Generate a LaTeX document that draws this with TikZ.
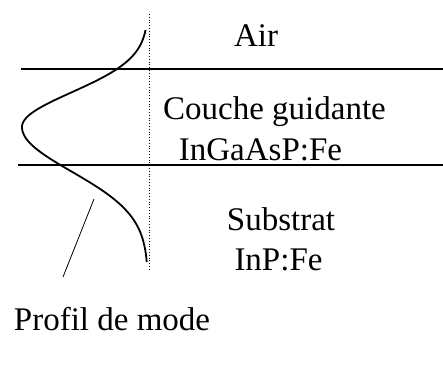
\documentclass[tikz,border=0pt]{standalone}
\usepackage{fontspec}
\setmainfont{Liberation Serif}
\tikzset{
  couche/.style={line width=1.6pt},
  mode/.style={line width=1.8pt, smooth, samples=60},
  etiquette/.style={anchor=base, inner sep=0pt, font=\fontsize{33}{38}\selectfont}
}
\begin{document}
\begin{tikzpicture}[x=1pt,y=1pt]
    \useasboundingbox (0,0) rectangle (443,367);

    \draw[couche] (21,298) -- (443,298);
    \draw[couche] (18,202) -- (443,202);
    \draw[line width=0.8pt, dotted] (149,353) -- (149,97);

    \draw[mode] plot[domain=105:240] ({148-126*exp(-((\x-240)/63)^2)},\x)
        -- plot[domain=240:337] ({148-126*exp(-((\x-240)/49)^2)},\x);

    \node[etiquette] (air) at (256,320) {Air};
    \node[etiquette] (guide) at (274.5,247) {Couche guidante};
    \node[etiquette] (guidemat) at (260.5,207) {InGaAsP:Fe};
    \node[etiquette] (substrat) at (281,137) {Substrat};
    \node[etiquette] (substratmat) at (278.5,97) {InP:Fe};
    \node[etiquette] (profil) at (112,37) {Profil de mode};

    \coordinate (pointe) at (94,168);
    \coordinate (pied) at (63,90);
    \draw[line width=0.8pt] (pointe) -- (pied);
\end{tikzpicture}
\end{document}
